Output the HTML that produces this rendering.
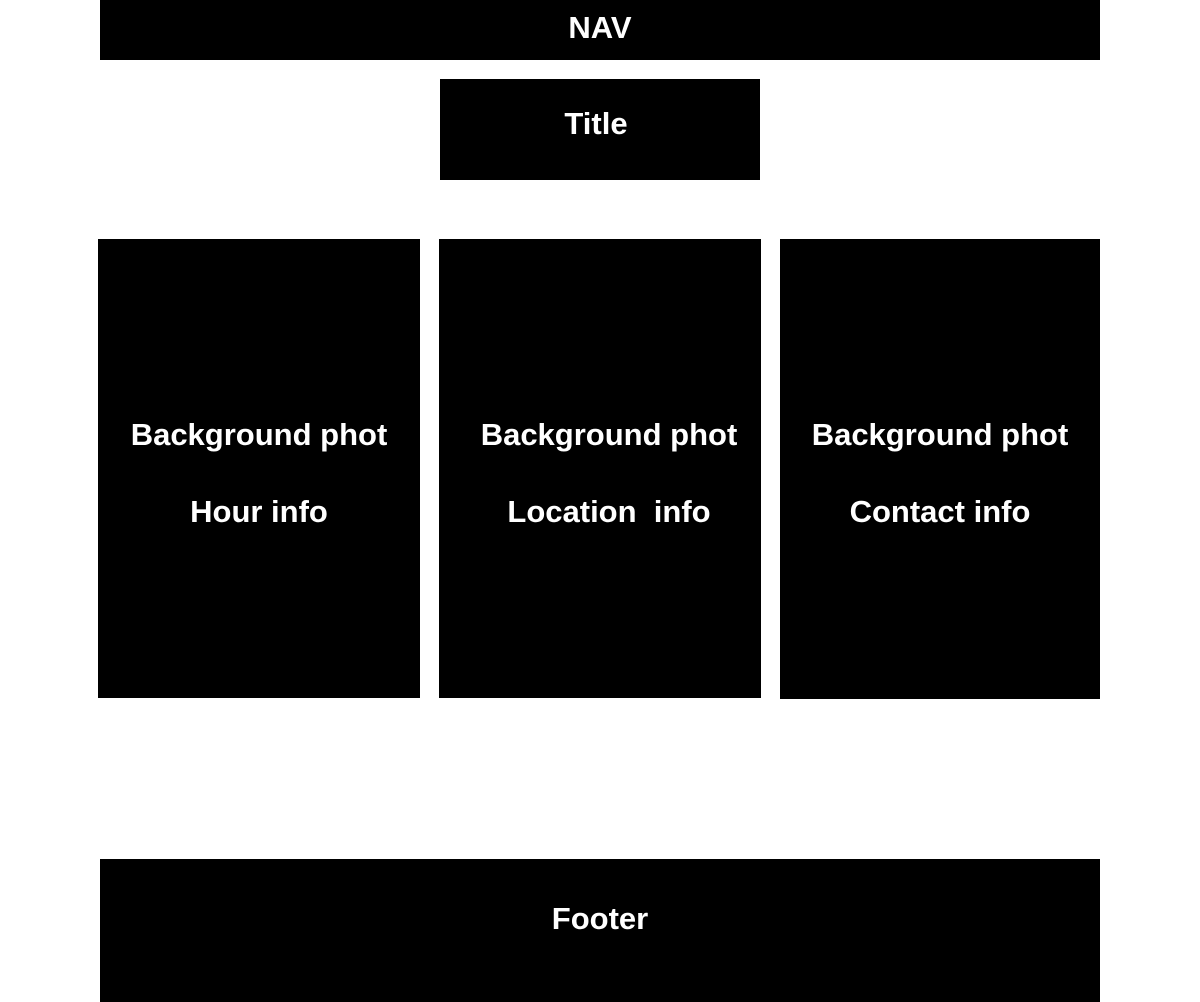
<!DOCTYPE html>
<html><head><meta charset="utf-8"><style>
body{margin:0;width:1200px;height:1002px;background:#fff;position:relative;overflow:hidden;font-family:"Liberation Sans",sans-serif;font-weight:bold;color:#fff}
.b{position:absolute;background:#000}
.t{position:absolute;width:400px;margin-left:-200px;text-align:center;font-size:31px;line-height:36px;white-space:nowrap}
</style></head><body>
<div class="b" style="left:100px;top:0;width:1000px;height:60px"></div>
<div class="b" style="left:440px;top:79px;width:320px;height:101px"></div>
<div class="b" style="left:98px;top:239px;width:322px;height:459px"></div>
<div class="b" style="left:439px;top:239px;width:322px;height:459px"></div>
<div class="b" style="left:780px;top:239px;width:320px;height:460px"></div>
<div class="b" style="left:100px;top:859px;width:1000px;height:143px"></div>
<div class="t" style="left:600px;top:10px">NAV</div>
<div class="t" style="left:596px;top:106px">Title</div>
<div class="t" style="left:259px;top:417px">Background phot</div>
<div class="t" style="left:259px;top:494px">Hour info</div>
<div class="t" style="left:609px;top:417px">Background phot</div>
<div class="t" style="left:609px;top:494px">Location&nbsp; info</div>
<div class="t" style="left:940px;top:417px">Background phot</div>
<div class="t" style="left:940px;top:494px">Contact info</div>
<div class="t" style="left:600px;top:901px">Footer</div>
</body></html>
